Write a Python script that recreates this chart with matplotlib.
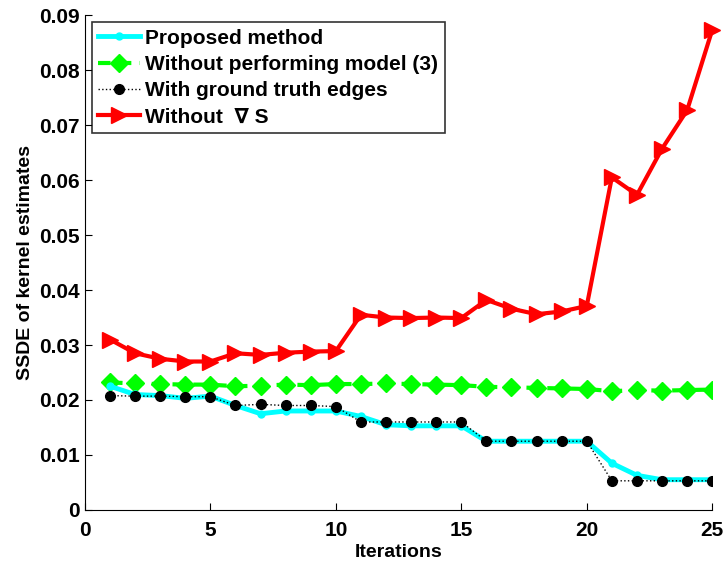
import matplotlib
matplotlib.use('Agg')
import matplotlib.pyplot as plt

plt.rcParams['font.family'] = ['Liberation Sans', 'DejaVu Sans']
plt.rcParams['font.weight'] = 'bold'

# Iteration index and SSDE values for each variant
iterations = list(range(1, 26))
proposed = [0.0225, 0.0210, 0.0208, 0.0203, 0.0207, 0.0190, 0.0175, 0.0180, 0.0180, 0.0180,
            0.0170, 0.0155, 0.0153, 0.0153, 0.0153, 0.0125, 0.0125, 0.0125, 0.0125, 0.0125,
            0.0085, 0.0063, 0.0055, 0.0055, 0.0055]
no_model3 = [0.0232, 0.0230, 0.0229, 0.0228, 0.0228, 0.0225, 0.0226, 0.0228, 0.0227, 0.0229,
             0.0229, 0.0230, 0.0229, 0.0228, 0.0227, 0.0224, 0.0223, 0.0222, 0.0221, 0.0220,
             0.0216, 0.0218, 0.0217, 0.0218, 0.0219]
gt_edges = [0.0208, 0.0207, 0.0207, 0.0206, 0.0206, 0.0190, 0.0192, 0.0190, 0.0190, 0.0188,
            0.0160, 0.0160, 0.0160, 0.0160, 0.0160, 0.0125, 0.0125, 0.0125, 0.0125, 0.0125,
            0.0053, 0.0053, 0.0053, 0.0053, 0.0053]
no_grad = [0.0310, 0.0285, 0.0275, 0.0270, 0.0270, 0.0285, 0.0282, 0.0286, 0.0288, 0.0289,
           0.0355, 0.0350, 0.0349, 0.0350, 0.0349, 0.0382, 0.0366, 0.0356, 0.0361, 0.0371,
           0.0605, 0.0573, 0.0657, 0.0727, 0.0873]

labels = ['Proposed method', 'Without performing model (3)',
          'With ground truth edges', 'Without  \u2207 S']

fig = plt.figure(figsize=(7.26, 5.61), dpi=100)
ax = fig.add_axes([0.117, 0.091, 0.864, 0.882])

ax.plot(iterations, proposed, color='#00ffff', lw=3.5, marker='o', ms=5,
        label=labels[0], zorder=3)
ax.plot(iterations, no_model3, color='#00ff00', lw=3, ls='--', dashes=(3, 2),
        marker='D', ms=9, label=labels[1], zorder=2)
ax.plot(iterations, gt_edges, color='black', lw=1, ls=':', marker='o', ms=7,
        label=labels[2], zorder=4)
ax.plot(iterations, no_grad, color='red', lw=3, marker='>', ms=12,
        label=labels[3], zorder=2, clip_on=False)

ax.set_xlim(0, 25)
ax.set_ylim(0, 0.09)
ax.set_xticks([0, 5, 10, 15, 20, 25])
ax.set_yticks([0, 0.01, 0.02, 0.03, 0.04, 0.05, 0.06, 0.07, 0.08, 0.09])
ax.set_yticklabels(['0', '0.01', '0.02', '0.03', '0.04', '0.05', '0.06', '0.07', '0.08', '0.09'])
ax.tick_params(direction='in', labelsize=15, length=5)
ax.tick_params(axis='x', pad=8)

ax.set_xlabel('Iterations', fontsize=14, fontweight='bold', labelpad=3)
ax.set_ylabel('SSDE of kernel estimates', fontsize=14, fontweight='bold')

ax.spines['top'].set_visible(False)
ax.spines['right'].set_visible(False)

leg = ax.legend(loc='upper left', fontsize=15, frameon=True, fancybox=False,
                edgecolor='black', borderaxespad=0.35, handlelength=2.0,
                handletextpad=0.25, labelspacing=0.35, borderpad=0.3)
leg.get_frame().set_linewidth(1.2)
for t in leg.get_texts():
    t.set_fontweight('bold')

fig.savefig('out.png', dpi=100)
